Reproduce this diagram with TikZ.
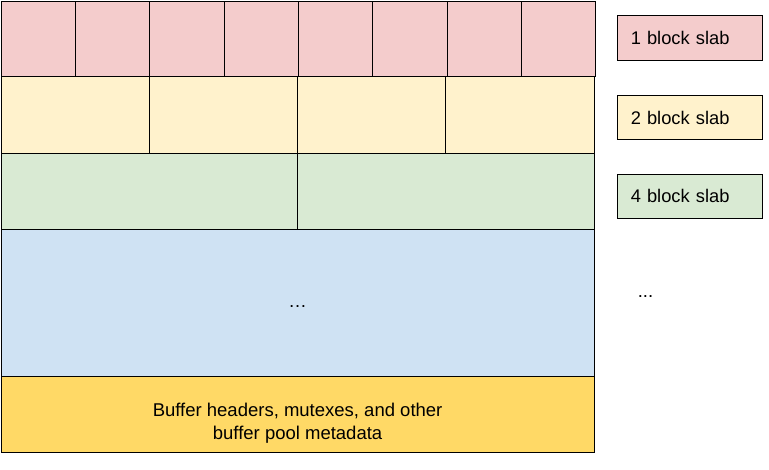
\documentclass[tikz,border=0pt]{standalone}
\usepackage{fontspec}
\setmainfont{Liberation Sans}
\usetikzlibrary{positioning}
\definecolor{slabred}{HTML}{F4CCCC}
\definecolor{slabyellow}{HTML}{FFF2CC}
\definecolor{slabgreen}{HTML}{D9EAD3}
\definecolor{slabblue}{HTML}{CFE2F3}
\definecolor{metaorange}{HTML}{FFD966}
\tikzset{
  cell/.style={draw, line width=1pt, inner sep=0pt, anchor=north west},
  legendbox/.style={draw, line width=1pt, anchor=north west, minimum width=144.5pt,
    minimum height=44.6pt, inner xsep=13pt, text width=118.5pt, align=left,
    font=\fontsize{18.3}{22}\selectfont},
}
\begin{document}
\begin{tikzpicture}[x=1pt,y=-1pt]
   \useasboundingbox (0,0) rectangle (769,469);
   % slab rows
   \foreach \i in {0,...,7}
      \node[cell, fill=slabred, minimum width=74.3pt, minimum height=75.3pt] (r\i) at (0.7+74.3*\i,0.7) {};
   \foreach \i in {0,...,3}
      \node[cell, fill=slabyellow, minimum width=148.2pt, minimum height=77pt] (y\i) at (0.7+148.2*\i,76) {};
   \foreach \i in {0,...,1}
      \node[cell, fill=slabgreen, minimum width=296.4pt, minimum height=76pt] (g\i) at (0.7+296.4*\i,153) {};
   \node[cell, fill=slabblue, minimum width=592.8pt, minimum height=147pt] (rest) at (0.7,229) {};
   \node (restdots) at ([yshift=-4pt]rest.center) {\fontsize{18.5}{22}\selectfont …};
   \node[cell, fill=metaorange, minimum width=592.8pt, minimum height=76pt] (meta) at (0.7,376) {};
   \node[align=center, font=\fontsize{18.5}{23}\selectfont] (metatext) at ([yshift=-9pt]meta.center)
      {Buffer headers, mutexes, and other\\buffer pool metadata};
   % legend
   \node[legendbox, fill=slabred] (l1) at (617.3,15.3) {1 block slab};
   \node[legendbox, fill=slabyellow] (l2) at (617.3,94.7) {2 block slab};
   \node[legendbox, fill=slabgreen] (l4) at (617.3,173.5) {4 block slab};
   \node[font=\fontsize{18.5}{22}\selectfont] (lmore) at (645.5,297) {...};
\end{tikzpicture}
\end{document}
